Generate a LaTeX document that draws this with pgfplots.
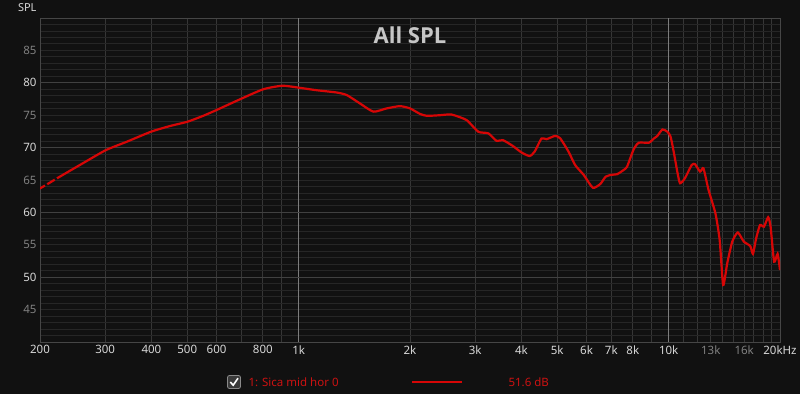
\documentclass[border=0pt]{standalone}
\usepackage{pgfplots}
\pgfplotsset{compat=1.18}
\usepackage{fontspec}
\setmainfont{Noto Sans}
\newfontfamily\titlefont{Open Sans}
\definecolor{bg}{HTML}{111111}
\definecolor{gridh}{HTML}{262626}
\definecolor{gridm}{HTML}{414141}
\definecolor{gridv}{HTML}{363636}
\definecolor{gridk}{HTML}{7C7C7C}
\definecolor{axisc}{HTML}{464646}
\definecolor{labw}{HTML}{D8D8D8}
\definecolor{labg}{HTML}{808080}
\definecolor{titlec}{HTML}{C6C6C6}
\definecolor{lred}{RGB}{214,6,6}
\definecolor{legred}{RGB}{204,18,18}
\definecolor{boxf}{HTML}{3A3A3A}
\definecolor{boxd}{HTML}{8A8A8A}
\begin{document}
\begin{tikzpicture}
\path[use as bounding box] (0,0) rectangle (800pt,394pt);
\fill[bg] (0,0) rectangle (800pt,394pt);
\begin{axis}[
  at={(40pt,52pt)}, anchor=south west, scale only axis,
  width=740pt, height=324pt,
  xmode=log, log basis x=10,
  xmin=200, xmax=20000, ymin=40, ymax=90,
  axis line style={draw=axisc, line width=1pt},
  xtick={200,300,400,500,600,800,1000,2000,3000,4000,5000,6000,7000,8000,10000,13000,16000,20000},
  xticklabels={200,300,400,500,600,800,1k,2k,3k,4k,5k,6k,7k,8k,10k,\textcolor{labg}{13k},\textcolor{labg}{16k},20kHz},
  minor xtick={300,400,500,600,700,800,900,2000,3000,4000,5000,6000,7000,8000,9000,11000,12000,13000,14000,15000,16000,17000,18000,19000},
  xmajorgrids=false, xminorgrids=true,
  minor x grid style={color=gridv, line width=1pt},
  ytick={45,50,55,60,65,70,75,80,85},
  yticklabels={\textcolor{labg}{45},50,\textcolor{labg}{55},60,\textcolor{labg}{65},70,\textcolor{labg}{75},80,\textcolor{labg}{85}},
  minor ytick={41,42,...,89},
  ymajorgrids=false, yminorgrids=true,
  minor y grid style={color=gridh, line width=0.9pt},
  extra x ticks={1000,10000}, extra x tick labels={},
  extra x tick style={grid=major, major grid style={color=gridk, line width=1pt}},
  extra y ticks={50,60,70,80}, extra y tick labels={},
  extra y tick style={grid=major, major grid style={color=gridm, line width=1pt}},
  major tick length=0pt, minor tick length=0pt,
  tick label style={font=\fontsize{11.5}{13}\selectfont, color=labw},
  unbounded coords=jump,
  clip=true,
]
\addplot[color=lred, line width=2.2pt, smooth, tension=0.35] table {
x y
200 63.7
206.3 64.15
nan nan
209.2 64.35
219.2 65.05
nan nan
222.3 65.25
226 65.5
256 67.3
301 69.6
343 70.9
399 72.45
449 73.33
501 74.0
552 74.9
600 75.8
694 77.45
802 79.0
904 79.55
1000 79.25
1120 78.85
1268 78.5
1350 78.1
1466 76.8
1592 75.55
1730 76.05
1878 76.4
2000 76.05
2128 75.2
2222 74.9
2410 75.0
2590 75.1
2843 74.25
3058 72.45
3256 72.2
3424 71.05
3566 71.15
3794 70.25
3998 69.27
4210 68.7
4346 69.4
4532 71.4
4678 71.3
4930 71.8
5090 71.45
5360 69.4
5590 67.3
5892 65.8
6240 63.8
6540 64.4
6754 65.5
7000 65.8
7260 65.9
7560 66.55
7720 67.05
8040 69.7
8300 70.75
8840 70.75
9120 71.4
9320 71.8
9620 72.8
9920 72.45
10120 71.7
10340 69.1
10560 66.2
10734 64.5
11060 65.25
11540 67.3
11780 67.45
12160 66.3
12420 66.8
12820 63.45
13380 59.85
13740 55.7
14040 48.8
14400 52.15
14860 55.5
15380 56.9
15960 55.5
16620 54.8
16900 53.6
17240 56.0
17660 58.05
18100 57.8
18580 59.25
18860 57.8
19280 52.4
19700 53.6
20000 51.1
};
\end{axis}
\node[font=\titlefont\bfseries\fontsize{22}{26}\selectfont, color=titlec] at (410pt,359pt) {All SPL};
\node[anchor=east, font=\fontsize{11}{13}\selectfont, color=labw] at (40pt,386pt) {SPL};
\draw[rounded corners=2pt, fill=boxf, draw=boxd, line width=0.8pt] (227.5pt,5.5pt) rectangle (240.5pt,18.5pt);
\draw[white, line width=1.6pt] (230.3pt,12pt) -- (233.2pt,8.8pt) -- (238pt,15.8pt);
\node[anchor=west, font=\fontsize{11.5}{13}\selectfont, color=legred] at (245pt,12pt) {1: Sica mid hor 0};
\draw[color=lred, line width=2pt] (412pt,12pt) -- (462pt,12pt);
\node[anchor=west, font=\fontsize{11.5}{13}\selectfont, color=legred] at (505pt,12pt) {51.6 dB};
\end{tikzpicture}
\end{document}
